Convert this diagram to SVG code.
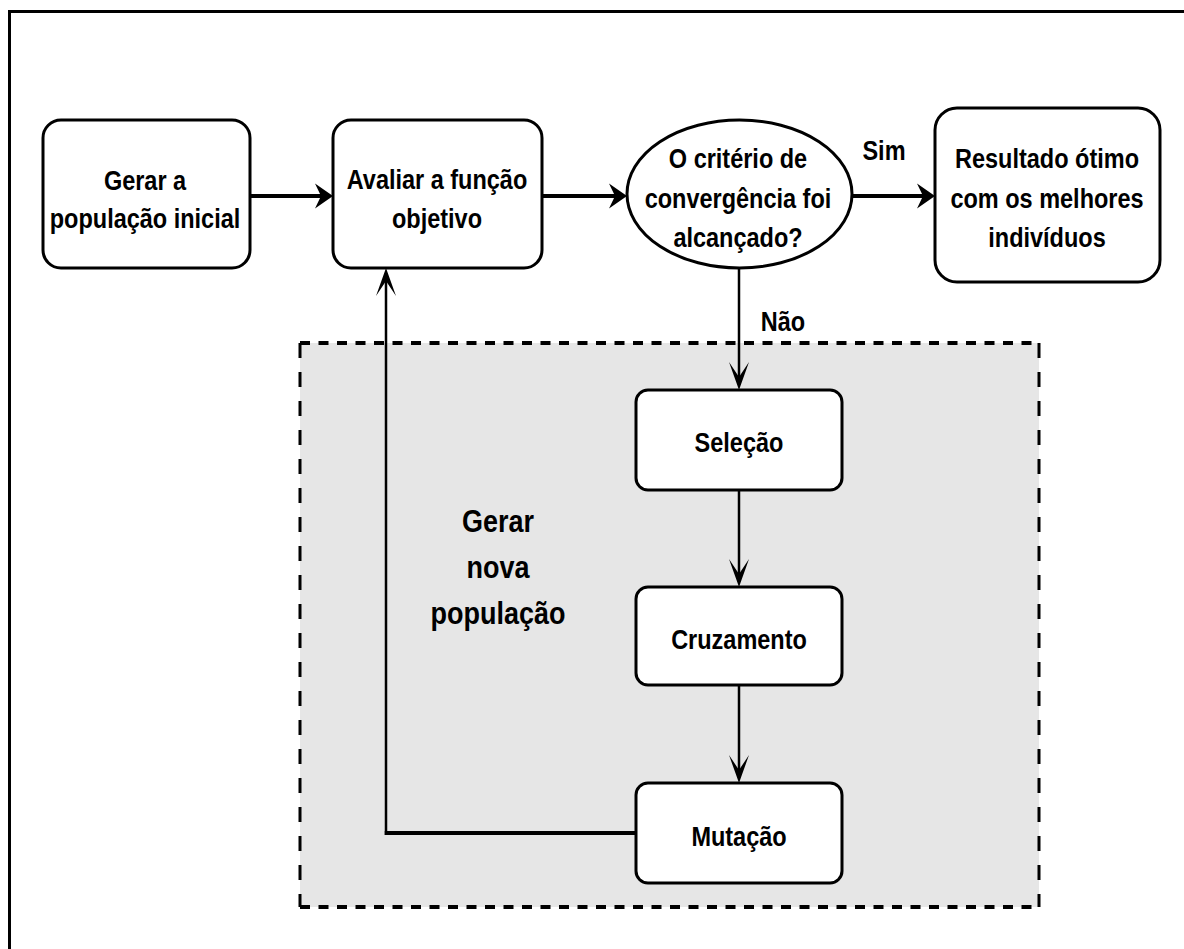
<svg xmlns="http://www.w3.org/2000/svg" width="1184" height="949" viewBox="0 0 1184 949">
  <style>
    .box { fill: #ffffff; stroke: #000000; stroke-width: 3; }
    .lbl { font-family: "Liberation Sans", Arial, sans-serif; font-weight: bold; font-size: 27px; fill: #000000; text-anchor: middle; }
    .big { font-size: 31px; }
    .edge { fill: none; stroke: #000000; }
    .h { stroke-width: 4; }
    .v { stroke-width: 2.5; }
    .dash-h { stroke: #000000; stroke-width: 4; stroke-dasharray: 10 8.5; fill: none; }
    .dash-v { stroke: #000000; stroke-width: 3; stroke-dasharray: 15 14; fill: none; }
  </style>
  <defs>
    <!-- arrowhead for horizontal runs -->
    <marker id="ah" markerUnits="userSpaceOnUse" markerWidth="40" markerHeight="40" refX="0" refY="0" orient="auto" overflow="visible">
      <path d="M6,0 L-12,-12.5 L-6,0 L-12,12.5 Z" fill="#000000"/>
    </marker>
    <!-- arrowhead for vertical runs -->
    <marker id="av" markerUnits="userSpaceOnUse" markerWidth="40" markerHeight="40" refX="0" refY="0" orient="auto" overflow="visible">
      <path d="M8,0 L-20,-10 L-5,0 L-20,10 Z" fill="#000000"/>
    </marker>
  </defs>

  <rect x="0" y="0" width="1184" height="949" fill="#ffffff"/>

  <!-- page frame -->
  <path d="M9.5,949 V11.5 H1184" fill="none" stroke="#000000" stroke-width="3"/>

  <!-- container: new population loop -->
  <g id="gerar-nova-populacao">
    <rect x="300" y="343" width="739" height="564" fill="#e6e6e6"/>
    <path class="dash-h" d="M300,343 H1039"/>
    <path class="dash-h" d="M300,907 H1039"/>
    <path class="dash-v" d="M300,343 V907"/>
    <path class="dash-v" d="M1039,343 V907"/>
    <g transform="translate(498 0) scale(0.87 1)">
      <text class="lbl big"><tspan x="0" y="532">Gerar</tspan><tspan x="0" y="578">nova</tspan><tspan x="0" y="624">população</tspan></text>
    </g>
  </g>

  <!-- connectors -->
  <g id="connectors">
    <path class="edge h" d="M250,196 H327" marker-end="url(#ah)"/>
    <path class="edge h" d="M542,196 H621" marker-end="url(#ah)"/>
    <path class="edge h" d="M852,196 H929" marker-end="url(#ah)"/>
    <path class="edge v" d="M739,268 V382" marker-end="url(#av)"/>
    <path class="edge v" d="M739,490 V579" marker-end="url(#av)"/>
    <path class="edge v" d="M739,685 V775" marker-end="url(#av)"/>
    <path class="edge h" d="M636,833 H384.75"/>
    <path class="edge v" d="M386,835 V276" marker-end="url(#av)"/>
    <g transform="translate(884 0) scale(0.87 1)">
      <text class="lbl" x="0" y="160">Sim</text>
    </g>
    <g transform="translate(783 0) scale(0.87 1)">
      <text class="lbl" x="0" y="331">Não</text>
    </g>
  </g>

  <g id="gerar-populacao-inicial">
    <rect class="box" x="43" y="120" width="207" height="148" rx="18"/>
    <g transform="translate(145 0) scale(0.87 1)">
      <text class="lbl"><tspan x="0" y="190">Gerar a</tspan><tspan x="0" y="228">população inicial</tspan></text>
    </g>
  </g>

  <g id="avaliar-funcao-objetivo">
    <rect class="box" x="333" y="120" width="209" height="148" rx="18"/>
    <g transform="translate(437 0) scale(0.87 1)">
      <text class="lbl"><tspan x="0" y="189">Avaliar a função</tspan><tspan x="0" y="228">objetivo</tspan></text>
    </g>
  </g>

  <g id="criterio-convergencia">
    <ellipse class="box" cx="739.5" cy="194" rx="112.5" ry="74"/>
    <g transform="translate(738 0) scale(0.87 1)">
      <text class="lbl"><tspan x="0" y="168">O critério de</tspan><tspan x="0" y="208">convergência foi</tspan><tspan x="0" y="247">alcançado?</tspan></text>
    </g>
  </g>

  <g id="resultado-otimo">
    <rect class="box" x="935" y="108" width="225" height="174" rx="22"/>
    <g transform="translate(1047 0) scale(0.87 1)">
      <text class="lbl"><tspan x="0" y="168">Resultado ótimo</tspan><tspan x="0" y="208">com os melhores</tspan><tspan x="0" y="247">indivíduos</tspan></text>
    </g>
  </g>

  <g id="selecao">
    <rect class="box" x="636" y="390" width="206" height="100" rx="12"/>
    <g transform="translate(739 0) scale(0.87 1)">
      <text class="lbl" x="0" y="452">Seleção</text>
    </g>
  </g>

  <g id="cruzamento">
    <rect class="box" x="636" y="587" width="206" height="98" rx="12"/>
    <g transform="translate(739 0) scale(0.87 1)">
      <text class="lbl" x="0" y="649">Cruzamento</text>
    </g>
  </g>

  <g id="mutacao">
    <rect class="box" x="636" y="783" width="206" height="100" rx="12"/>
    <g transform="translate(739 0) scale(0.87 1)">
      <text class="lbl" x="0" y="846">Mutação</text>
    </g>
  </g>
</svg>
